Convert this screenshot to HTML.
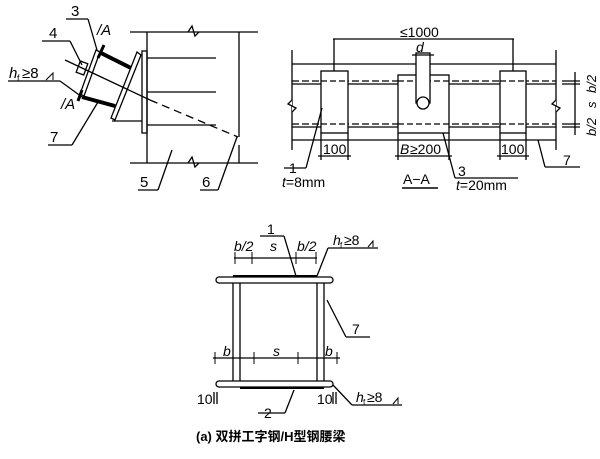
<!DOCTYPE html>
<html><head><meta charset="utf-8"><style>
body{margin:0;background:#fff}
svg{display:block}
text{font-family:"Liberation Sans","Noto Sans CJK SC",sans-serif;fill:#000}
.i{font-style:italic}
</style></head><body>
<svg width="600" height="459" viewBox="0 0 600 459" fill="none" stroke="#000" stroke-width="1.3">
<!-- LEFT PANEL -->
<line x1="130" y1="32" x2="258" y2="32"/>
<line x1="130" y1="163" x2="258" y2="163"/>
<polyline points="188,32 192,26 195,36 199,32"/>
<polyline points="188,163 192,157 195,167 199,163"/>
<line x1="147" y1="32" x2="147" y2="163"/>
<line x1="239" y1="32" x2="239" y2="137"/>
<line x1="239" y1="145" x2="239" y2="163"/>
<rect x="142" y="51" width="5" height="82"/>
<line x1="147" y1="58" x2="216" y2="58"/>
<line x1="147" y1="92" x2="216" y2="92"/>
<line x1="147" y1="125" x2="216" y2="125"/>
<polygon points="137,52 141,55 115,120 111,118"/>
<line x1="112" y1="121" x2="142" y2="121"/>
<line x1="101" y1="53" x2="131" y2="68" stroke-width="4"/>
<line x1="82" y1="97" x2="115" y2="106" stroke-width="4"/>
<polygon points="96,50 100,52 84,96 80,94"/>
<line x1="104" y1="45" x2="98" y2="58" stroke-width="3"/>
<line x1="82" y1="90" x2="78" y2="101" stroke-width="3"/>
<rect x="78" y="62" width="8" height="12" transform="rotate(20 82 68)"/>
<line x1="65" y1="60" x2="150" y2="100"/>
<line x1="150" y1="100" x2="238" y2="137" stroke-dasharray="8,5"/>
<line x1="66" y1="19" x2="88" y2="19"/><line x1="88" y1="19" x2="97" y2="50"/>
<line x1="42" y1="41" x2="70" y2="41"/><line x1="70" y1="41" x2="82" y2="65"/>
<line x1="8" y1="81" x2="60" y2="81"/><line x1="60" y1="81" x2="82" y2="97"/>
<polyline points="46,80 53,73 53,80" stroke-width="1"/>
<line x1="48" y1="145" x2="72" y2="145"/><line x1="72" y1="145" x2="98" y2="102"/>
<line x1="138" y1="190" x2="158" y2="190"/><line x1="158" y1="190" x2="172" y2="150"/>
<line x1="200" y1="190" x2="218" y2="190"/><line x1="218" y1="190" x2="237" y2="137"/>
<g stroke="none" font-size="15">
<text x="71" y="16">3</text><text x="49" y="38">4</text>
<text x="9" y="78" class="i">h</text><text x="17" y="81" font-size="9">f</text><text x="22" y="78">≥8</text>
<text x="97" y="35" class="i">/A</text><text x="61" y="109" class="i">/A</text>
<text x="50" y="142">7</text><text x="140" y="187">5</text><text x="202" y="187">6</text>
</g>
<!-- RIGHT PANEL -->
<line x1="292" y1="64" x2="556" y2="64"/>
<line x1="292" y1="140" x2="556" y2="140"/>
<line x1="292" y1="50" x2="292" y2="150"/>
<line x1="556" y1="50" x2="556" y2="150"/>
<polyline points="292,100 288,104 296,108 292,112" fill="#fff"/>
<polyline points="556,100 552,104 560,108 556,112" fill="#fff"/>
<line x1="292" y1="84" x2="556" y2="84"/>
<line x1="292" y1="81" x2="556" y2="81" stroke-dasharray="7,3"/>
<line x1="292" y1="127" x2="556" y2="127"/>
<line x1="292" y1="124" x2="556" y2="124" stroke-dasharray="7,3"/>
<rect x="321" y="71" width="27" height="62" fill="#fff"/>
<rect x="398" y="75" width="51" height="58" fill="#fff"/>
<rect x="500" y="71" width="26" height="62" fill="#fff"/>
<g stroke-dasharray="6,3"><line x1="321" y1="81" x2="348" y2="81"/><line x1="321" y1="124" x2="348" y2="124"/><line x1="398" y1="81" x2="449" y2="81"/><line x1="398" y1="124" x2="449" y2="124"/><line x1="500" y1="81" x2="526" y2="81"/><line x1="500" y1="124" x2="526" y2="124"/></g>
<rect x="416" y="53" width="14" height="50" fill="#fff"/>
<circle cx="423" cy="103" r="6" fill="#fff"/>
<line x1="333" y1="39" x2="514" y2="39"/>
<line x1="334" y1="39" x2="334" y2="71"/><line x1="513" y1="39" x2="513" y2="71"/>
<line x1="412" y1="55" x2="434" y2="55"/>
<line x1="321" y1="133" x2="321" y2="160"/><line x1="348" y1="133" x2="348" y2="160"/>
<line x1="318" y1="156" x2="351" y2="156"/>
<line x1="398" y1="133" x2="398" y2="160"/><line x1="449" y1="133" x2="449" y2="160"/>
<line x1="395" y1="156" x2="452" y2="156"/>
<line x1="500" y1="133" x2="500" y2="160"/><line x1="526" y1="133" x2="526" y2="160"/>
<line x1="497" y1="156" x2="529" y2="156"/>
<line x1="562" y1="81" x2="580" y2="81"/><line x1="562" y1="84" x2="580" y2="84"/>
<line x1="562" y1="124" x2="580" y2="124"/><line x1="562" y1="127" x2="580" y2="127"/>
<line x1="575" y1="72" x2="575" y2="135"/>
<line x1="284" y1="168" x2="306" y2="168"/><line x1="306" y1="168" x2="322" y2="108"/>
<line x1="455" y1="178" x2="518" y2="178"/><line x1="455" y1="178" x2="443" y2="133"/>
<line x1="545" y1="167" x2="580" y2="167"/><line x1="545" y1="167" x2="538" y2="140"/>
<line x1="402" y1="188" x2="438" y2="188" stroke-width="1.6"/>
<g stroke="none" font-size="14">
<text x="400" y="37">≤1000</text>
<text x="416" y="52" class="i">d</text>
<text x="323" y="154">100</text><text x="400" y="154" class="i">B</text><text x="410" y="154">≥200</text><text x="501" y="154">100</text>
<text x="289" y="173">1</text><text x="282" y="187"><tspan class="i">t</tspan>=8mm</text>
<text x="403" y="184">A−A</text>
<text x="458" y="176">3</text><text x="456" y="190"><tspan class="i">t</tspan>=20mm</text>
<text x="563" y="165">7</text>
<text x="0" y="0" transform="translate(596,93) rotate(-90)" class="i" font-size="13">b/2</text>
<text x="0" y="0" transform="translate(596,108) rotate(-90)" class="i" font-size="13">s</text>
<text x="0" y="0" transform="translate(596,136) rotate(-90)" class="i" font-size="13">b/2</text>
</g>
<!-- BOTTOM -->
<rect x="216" y="277" width="117" height="6" rx="3" fill="#fff"/>
<rect x="216" y="381" width="117" height="6" rx="3" fill="#fff"/>
<line x1="233" y1="283" x2="233" y2="381"/><line x1="240" y1="283" x2="240" y2="381"/>
<line x1="317" y1="283" x2="317" y2="381"/><line x1="324" y1="283" x2="324" y2="381"/>
<line x1="233" y1="276" x2="317" y2="276" stroke-width="2"/>
<line x1="240" y1="388" x2="324" y2="388" stroke-width="2"/>
<line x1="234" y1="258" x2="317" y2="258"/>
<g stroke-width="1"><line x1="235" y1="252" x2="235" y2="264"/><line x1="252" y1="252" x2="252" y2="264"/><line x1="296" y1="252" x2="296" y2="264"/><line x1="316" y1="252" x2="316" y2="264"/>
<line x1="215" y1="352" x2="215" y2="364"/><line x1="254" y1="352" x2="254" y2="364"/><line x1="298" y1="352" x2="298" y2="364"/><line x1="337" y1="352" x2="337" y2="364"/></g>
<line x1="213" y1="358" x2="340" y2="358"/>
<line x1="214" y1="392" x2="214" y2="404"/><line x1="217" y1="392" x2="217" y2="404"/>
<line x1="333" y1="392" x2="333" y2="404"/><line x1="336" y1="392" x2="336" y2="404"/>
<line x1="260" y1="236" x2="284" y2="236"/><line x1="284" y1="236" x2="296" y2="276"/>
<line x1="328" y1="248" x2="378" y2="248"/><line x1="328" y1="248" x2="317" y2="276"/>
<polyline points="368,247 373,241 373,247" stroke-width="1"/>
<line x1="327" y1="300" x2="346" y2="337"/><line x1="346" y1="337" x2="370" y2="337"/>
<line x1="333" y1="385" x2="352" y2="405"/><line x1="352" y1="405" x2="402" y2="405"/>
<polyline points="393,404 398,398 398,404" stroke-width="1"/>
<line x1="294" y1="390" x2="285" y2="413"/><line x1="285" y1="413" x2="258" y2="413"/>
<g stroke="none" font-size="14">
<text x="267" y="234">1</text>
<text x="234" y="251" class="i">b/2</text><text x="270" y="251" class="i">s</text><text x="297" y="251" class="i">b/2</text>
<text x="333" y="245" class="i">h</text><text x="340" y="248" font-size="8">f</text><text x="344" y="245">≥8</text>
<text x="352" y="334">7</text>
<text x="223" y="356" class="i">b</text><text x="273" y="356" class="i">s</text><text x="325" y="356" class="i">b</text>
<text x="197" y="404">10</text><text x="317" y="404">10</text>
<text x="264" y="418">2</text>
<text x="356" y="402" class="i">h</text><text x="363" y="405" font-size="8">f</text><text x="367" y="402">≥8</text>
<text x="196" y="441" font-weight="bold" font-size="13">(a) 双拼工字钢/H型钢腰梁</text>
</g>
</svg>
</body></html>
